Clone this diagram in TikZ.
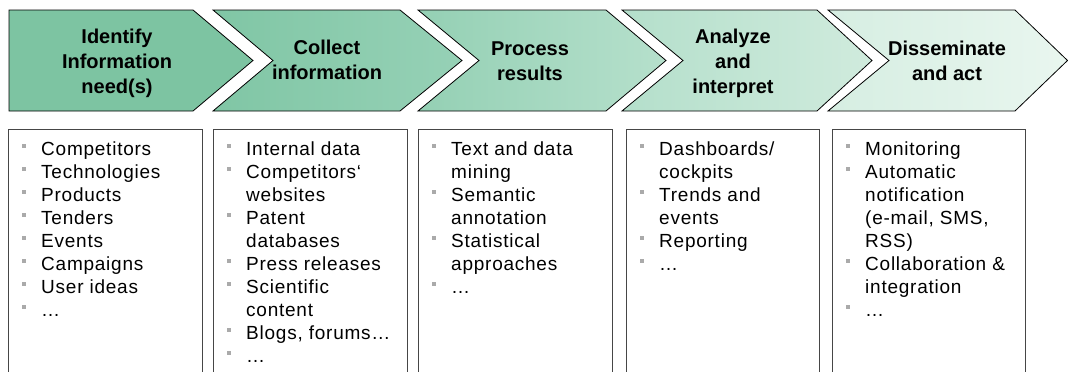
\documentclass[tikz,border=0pt]{standalone}
\usepackage{fontspec}
\setmainfont{Liberation Sans}
\newfontfamily\bodyfont[LetterSpace=4]{Liberation Sans}
\definecolor{gA}{RGB}{125,196,162}
\definecolor{gB1}{RGB}{128,198,165}
\definecolor{gB2}{RGB}{150,209,182}
\definecolor{gC1}{RGB}{148,208,180}
\definecolor{gC2}{RGB}{182,224,204}
\definecolor{gD1}{RGB}{180,223,203}
\definecolor{gD2}{RGB}{208,235,221}
\definecolor{gE1}{RGB}{214,238,226}
\definecolor{gE2}{RGB}{233,246,239}
\definecolor{bulgray}{RGB}{170,170,170}
\definecolor{boxline}{RGB}{70,70,70}
\newcommand\hdr[1]{\parbox[t]{170pt}{\centering\fontsize{20}{25}\selectfont\bfseries #1}}
\newcommand\lst[1]{\parbox[t]{185pt}{\raggedright\bodyfont\fontsize{19}{23}\selectfont #1}}
\newcommand\bu{\makebox[19pt][l]{\textcolor{bulgray}{\rule[7.5pt]{4pt}{4pt}}}}
\newcommand\ct{\hspace*{19pt}}
\tikzset{
  chev/.style={draw=black, line width=0.8pt},
  hd/.style={inner sep=0pt, anchor=base},
  ls/.style={inner sep=0pt, anchor=base west},
  frame/.style={draw=boxline, line width=1pt}
}
\begin{document}
\begin{tikzpicture}[x=1pt,y=-1pt]
\useasboundingbox (0,0) rectangle (1068,372);
\clip (0,0) rectangle (1068,372);
% chevrons
\path[chev, fill=gA] (9,10)--(193,10)--(253,60.5)--(193,111)--(9,111)--cycle;
\path[chev, left color=gB1, right color=gB2] (213,10)--(400,10)--(462,60.5)--(400,111)--(213,111)--(273,60.5)--cycle;
\path[chev, left color=gC1, right color=gC2] (418,10)--(606,10)--(666,60.5)--(606,111)--(418,111)--(479,60.5)--cycle;
\path[chev, left color=gD1, right color=gD2] (622,10)--(817,10)--(872,60.5)--(817,111)--(622,111)--(683,60.5)--cycle;
\path[chev, left color=gE1, right color=gE2] (828,10)--(1015,10)--(1067.5,60.5)--(1015,111)--(828,111)--(889,60.5)--cycle;
% header texts
\node[hd] (h1) at (117,43) {\hdr{Identify\\Information\\need(s)}};
\node[hd] (h2) at (327,54) {\hdr{Collect\\information}};
\node[hd] (h3) at (530,55) {\hdr{Process\\results}};
\node[hd] (h4) at (733,43) {\hdr{Analyze\\and\\interpret}};
\node[hd] (h5) at (947,55) {\hdr{Disseminate\\and act}};
% boxes
\draw[frame] (8,380)--(8,129)--(202,129)--(202,380);
\draw[frame] (213,380)--(213,129)--(407,129)--(407,380);
\draw[frame] (418,380)--(418,129)--(612,129)--(612,380);
\draw[frame] (626,380)--(626,129)--(819,129)--(819,380);
\draw[frame] (832,380)--(832,129)--(1025,129)--(1025,380);
% lists
\node[ls] (l1) at (22,155) {\lst{\bu Competitors\\\bu Technologies\\\bu Products\\\bu Tenders\\\bu Events\\\bu Campaigns\\\bu User ideas\\\bu …}};
\node[ls] (l2) at (227,155) {\lst{\bu Internal data\\\bu Competitors‘\\\ct websites\\\bu Patent\\\ct databases\\\bu Press releases\\\bu Scientific\\\ct content\\\bu Blogs, forums…\\\bu …}};
\node[ls] (l3) at (432,155) {\lst{\bu Text and data\\\ct mining\\\bu Semantic\\\ct annotation\\\bu Statistical\\\ct approaches\\\bu …}};
\node[ls] (l4) at (640,155) {\lst{\bu Dashboards/\\\ct cockpits\\\bu Trends and\\\ct events\\\bu Reporting\\\bu …}};
\node[ls] (l5) at (846,155) {\lst{\bu Monitoring\\\bu Automatic\\\ct notification\\\ct (e-mail, SMS,\\\ct RSS)\\\bu Collaboration \&\\\ct integration\\\bu …}};
\end{tikzpicture}
\end{document}
